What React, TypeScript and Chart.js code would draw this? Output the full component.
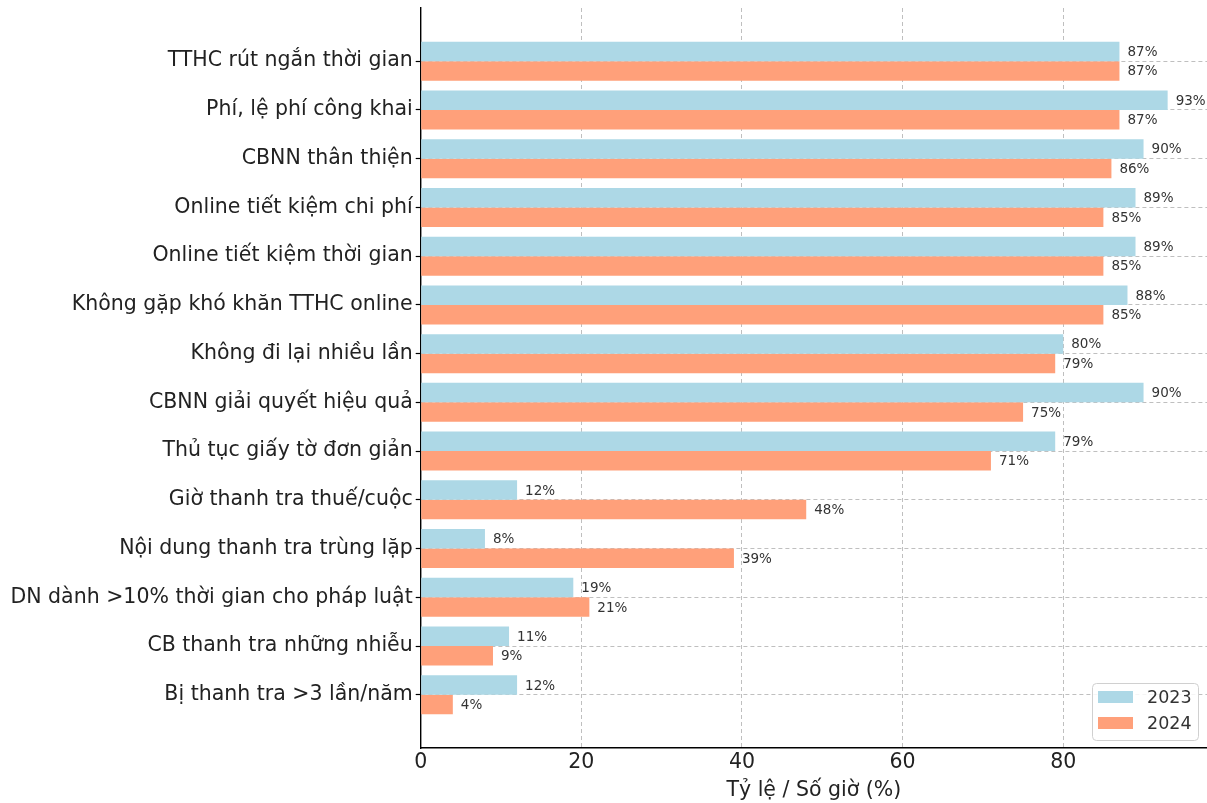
import React, { useEffect, useRef } from 'react';
import { Chart, registerables } from 'chart.js';

Chart.register(...registerables);

const categories = [
  'TTHC rút ngắn thời gian',
  'Phí, lệ phí công khai',
  'CBNN thân thiện',
  'Online tiết kiệm chi phí',
  'Online tiết kiệm thời gian',
  'Không gặp khó khăn TTHC online',
  'Không đi lại nhiều lần',
  'CBNN giải quyết hiệu quả',
  'Thủ tục giấy tờ đơn giản',
  'Giờ thanh tra thuế/cuộc',
  'Nội dung thanh tra trùng lặp',
  'DN dành >10% thời gian cho pháp luật',
  'CB thanh tra những nhiễu',
  'Bị thanh tra >3 lần/năm',
];

const values2023 = [87, 93, 90, 89, 89, 88, 80, 90, 79, 12, 8, 19, 11, 12];
const values2024 = [87, 87, 86, 85, 85, 85, 79, 75, 71, 48, 39, 21, 9, 4];
const seriesLabels = ['2023', '2024'];
const xTickValues = [0, 20, 40, 60, 80];
const xAxisTitle = 'Tỷ lệ / Số giờ (%)';

const FONT = '"DejaVu Sans", "Noto Sans", sans-serif';
const BLUE = '#ADD8E6';
const SALMON = '#FFA07A';
const GRID = 'rgba(170,170,170,0.75)';

const valueLabelsPlugin = {
  id: 'valueLabels',
  afterDatasetsDraw(chart: any) {
    const ctx = chart.ctx;
    ctx.save();
    ctx.font = `13.5px ${FONT}`;
    ctx.fillStyle = '#333333';
    ctx.textBaseline = 'middle';
    ctx.textAlign = 'left';
    chart.data.datasets.forEach((ds: any, di: number) => {
      const meta = chart.getDatasetMeta(di);
      meta.data.forEach((el: any, i: number) => {
        const v = ds.data[i].x;
        ctx.fillText(`${v}%`, el.x + 8, el.y + 1);
      });
    });
    ctx.restore();
  },
};

const legendPlugin = {
  id: 'boxLegend',
  afterDraw(chart: any) {
    const ctx = chart.ctx;
    const area = chart.chartArea;
    const w = 106;
    const h = 57;
    const x = 1092;
    const y = area.bottom - 8 - h;
    ctx.save();
    ctx.fillStyle = 'rgba(255,255,255,0.85)';
    ctx.strokeStyle = '#d0d0d0';
    ctx.lineWidth = 1;
    ctx.beginPath();
    if (ctx.roundRect) ctx.roundRect(x + 0.5, y + 0.5, w, h, 4);
    else ctx.rect(x + 0.5, y + 0.5, w, h);
    ctx.fill();
    ctx.stroke();
    ctx.font = `17.5px ${FONT}`;
    ctx.textBaseline = 'middle';
    chart.data.datasets.forEach((ds: any, i: number) => {
      const rowY = y + 14 + i * 26;
      ctx.fillStyle = ds.backgroundColor;
      ctx.fillRect(x + 6, rowY - 6, 35, 12);
      ctx.fillStyle = '#333333';
      ctx.fillText(ds.label, x + 55, rowY + 1);
    });
    ctx.restore();
  },
};

export default function App() {
  const canvasRef = useRef<HTMLCanvasElement | null>(null);

  useEffect(() => {
    if (!canvasRef.current) return;
    const chart = new Chart(canvasRef.current, {
      type: 'bar',
      data: {
        datasets: [
          {
            label: seriesLabels[0],
            data: values2023.map((v, i) => ({ x: v, y: i })),
            backgroundColor: BLUE,
            borderWidth: 0,
            categoryPercentage: 0.8,
            barPercentage: 1.0,
          },
          {
            label: seriesLabels[1],
            data: values2024.map((v, i) => ({ x: v, y: i })),
            backgroundColor: SALMON,
            borderWidth: 0,
            categoryPercentage: 0.8,
            barPercentage: 1.0,
          },
        ] as any,
      },
      options: {
        indexAxis: 'y',
        animation: false,
        responsive: false,
        maintainAspectRatio: false,
        layout: { padding: { left: 0, top: 8, right: 0, bottom: 0 } },
        plugins: {
          legend: { display: false },
          tooltip: { enabled: false },
          title: { display: false },
        },
        scales: {
          x: {
            type: 'linear',
            min: 0,
            max: 97.9,
            afterBuildTicks: (scale: any) => {
              scale.ticks = xTickValues.map((v) => ({ value: v }));
            },
            afterFit: (scale: any) => {
              scale.height = 55;
              scale.paddingLeft = 0;
              scale.paddingRight = 0;
            },
            grid: {
              color: GRID,
              drawTicks: false,
              lineWidth: 1,
            },
            border: { display: true, color: '#000', width: 1.4, dash: [4, 3] },
            ticks: {
              color: '#222',
              font: { family: FONT, size: 20.5 },
              padding: 2,
              maxRotation: 0,
              callback: (v: any) => String(v),
            },
            title: {
              display: true,
              text: xAxisTitle,
              color: '#222',
              font: { family: FONT, size: 20.5 },
              padding: { top: 0, bottom: 0 },
            },
          },
          y: {
            type: 'linear',
            reverse: true,
            offset: false,
            min: -1.09,
            max: 14.09,
            afterBuildTicks: (scale: any) => {
              scale.ticks = categories.map((_, i) => ({ value: i }));
            },
            afterFit: (scale: any) => {
              scale.width = 420.7;
              scale.paddingTop = 0;
              scale.paddingBottom = 0;
            },
            grid: {
              offset: false,
              color: GRID,
              drawTicks: true,
              tickLength: 5,
              tickColor: '#000',
              tickBorderDash: [],
              tickWidth: 1.2,
              lineWidth: 1,
            } as any,
            border: { display: true, color: '#000', width: 1.4, dash: [4, 3] },
            ticks: {
              color: '#222',
              font: { family: FONT, size: 20.5 },
              padding: 3,
              autoSkip: false,
              callback: (v: any) => categories[v] ?? '',
            },
          },
        },
      } as any,
      plugins: [valueLabelsPlugin, legendPlugin],
    });
    return () => chart.destroy();
  }, []);

  return (
    <div style={{ position: 'fixed', left: 0, top: 0, width: 1207, height: 803, background: '#fff' }}>
      <canvas ref={canvasRef} width={1207} height={803} style={{ width: 1207, height: 803, display: 'block' }} />
    </div>
  );
}
